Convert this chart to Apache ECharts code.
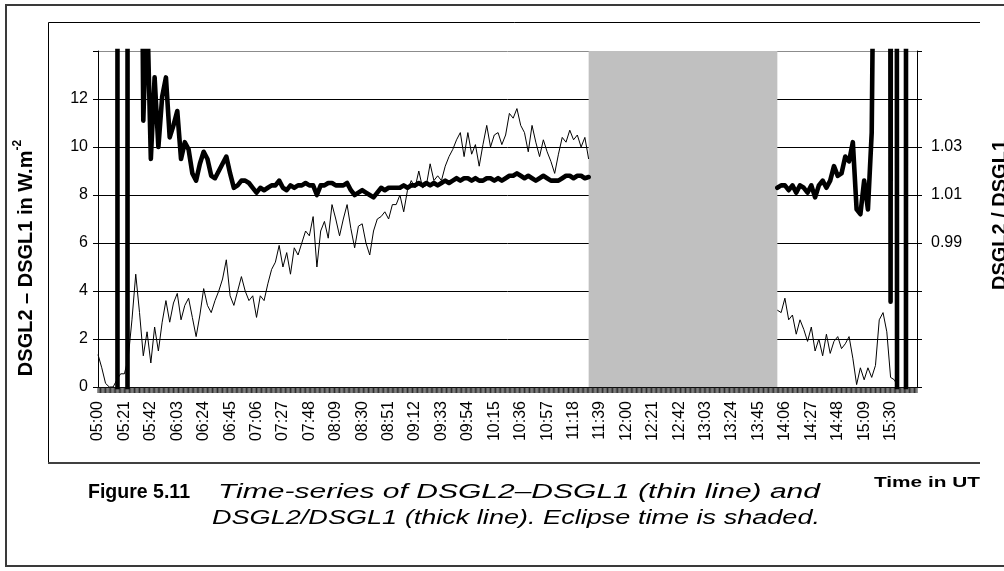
<!DOCTYPE html>
<html>
<head>
<meta charset="utf-8">
<script src="https://cdn.jsdelivr.net/npm/echarts@6/dist/echarts.min.js"></script>
<style>
  html, body { margin: 0; padding: 0; background: #fff; }
  #chart { width: 1004px; height: 571px; }
</style>
</head>
<body>
<div id="chart"></div>
<script>
const FONT = '"Liberation Sans", Arial, Helvetica, sans-serif';

// Time axis: one category per minute from 05:00 to 15:51 UT
function clock(m) {
  const h = Math.floor(m / 60), mm = m % 60;
  return String(h).padStart(2, '0') + ':' + String(mm).padStart(2, '0');
}
const firstMinute = 300, lastMinute = 951;
const minuteCategories = [];
for (let m = firstMinute; m <= lastMinute; m += 1) minuteCategories.push(clock(m));
const sampleStep = 3; // readings every 3 minutes

const timeLabels = ['05:00','05:21','05:42','06:03','06:24','06:45','07:06','07:27','07:48',
  '08:09','08:30','08:51','09:12','09:33','09:54','10:15','10:36','10:57','11:18','11:39',
  '12:00','12:21','12:42','13:03','13:24','13:45','14:06','14:27','14:48','15:09','15:30'];
const leftLabels = ['0','2','4','6','8','10','12'];
const rightLabels = ['0.99','1.01','1.03'];

const eclipseStart = '11:30';
const eclipseEnd = '14:00';
const morningStart = '05:00';
const afternoonStart = '14:00';

// DSGL2 - DSGL1 in W.m-2, morning (05:00-11:30) and afternoon (from 14:00)
const diffMorning = [
  1.35, 0.8, 0.15, 0, 0, 0.3, 0.55, 0.55, 1.2, 2.8,
  4.7, 3.1, 1.3, 2.3, 1.0, 2.5, 1.5, 2.7, 3.6, 2.7,
  3.5, 3.9, 2.8, 3.4, 3.7, 2.9, 2.1, 3.0, 4.1, 3.4,
  3.1, 3.6, 4.0, 4.5, 5.3, 3.8, 3.4, 4.0, 4.6, 4.0,
  3.6, 3.8, 2.9, 3.8, 3.6, 4.3, 4.9, 5.2, 5.9, 5.0,
  5.6, 4.7, 5.8, 5.5, 6.0, 6.5, 6.3, 7.1, 5.0, 6.5,
  6.9, 6.2, 7.6, 7.0, 6.3, 7.0, 7.6, 6.6, 5.8, 6.7,
  6.8, 6.0, 5.5, 6.5, 7.0, 7.1, 7.3, 7.0, 7.6, 7.6,
  8.0, 7.3, 8.2, 8.6, 8.3, 9.0, 8.3, 8.4, 9.3, 8.6,
  8.8, 8.6, 9.2, 9.6, 9.9, 10.3, 10.6, 9.6, 10.6, 9.7,
  10.1, 9.2, 10.1, 10.9, 10.0, 10.5, 10.6, 10.1, 10.5, 11.4,
  11.2, 11.6, 10.9, 10.6, 9.8, 10.9, 10.2, 9.6, 10.3, 9.8,
  9.4, 8.9, 9.7, 10.4, 10.2, 10.7, 10.3, 10.5, 10.0, 10.4,
  9.5
];
const diffAfternoon = [
  3.2, 3.1, 3.7, 2.8, 3.0, 2.2, 2.8, 2.4, 1.9, 2.5,
  1.5, 2.0, 1.3, 2.2, 1.4, 1.9, 2.1, 1.6, 1.8, 2.1,
  1.2, 0.1, 0.8, 0.3, 0.8, 0.4, 0.9, 2.8, 3.1, 2.3,
  0.4, 0.3, 0
];

// DSGL2 / DSGL1, same sampling
const ratioMorning = [
  1.35, 1.6, 2.4, 3.1, 4.0, 5.0, -20, -12, 3.85, 2.6,
  1.8, 1.25, 1.041, 1.09, 1.025, 1.059, 1.030, 1.051, 1.059, 1.034,
  1.039, 1.045, 1.025, 1.032, 1.029, 1.019, 1.016, 1.023, 1.028, 1.025,
  1.018, 1.017, 1.020, 1.023, 1.026, 1.019, 1.013, 1.014, 1.016, 1.016,
  1.015, 1.013, 1.011, 1.013, 1.012, 1.013, 1.014, 1.014, 1.016, 1.013,
  1.012, 1.014, 1.013, 1.014, 1.014, 1.015, 1.014, 1.014, 1.010, 1.014,
  1.014, 1.015, 1.015, 1.014, 1.014, 1.014, 1.015, 1.012, 1.010, 1.011,
  1.012, 1.011, 1.010, 1.009, 1.011, 1.013, 1.012, 1.013, 1.013, 1.013,
  1.013, 1.014, 1.013, 1.014, 1.014, 1.015, 1.014, 1.015, 1.014, 1.015,
  1.014, 1.015, 1.016, 1.015, 1.016, 1.017, 1.016, 1.017, 1.017, 1.016,
  1.017, 1.016, 1.016, 1.017, 1.017, 1.016, 1.017, 1.016, 1.017, 1.018,
  1.018, 1.019, 1.018, 1.017, 1.018, 1.017, 1.016, 1.017, 1.018, 1.017,
  1.016, 1.016, 1.016, 1.017, 1.018, 1.018, 1.017, 1.018, 1.018, 1.017,
  1.0175
];
const ratioAfternoon = [
  1.013, 1.014, 1.014, 1.012, 1.014, 1.011, 1.014, 1.013, 1.011, 1.014,
  1.009, 1.014, 1.016, 1.013, 1.016, 1.022, 1.018, 1.019, 1.026, 1.024,
  1.032, 1.004, 1.002, 1.016, 1.004, 1.036, 1.2, 1.6, 2.2, 3.0,
  0.9655, 3.0, 0.1, 0.3, -2, 35.5, 8, 3
];

// attach each reading to its minute on the time axis
function pairs(values, startLabel) {
  const s = minuteCategories.indexOf(startLabel);
  return values.map((v, i) => [minuteCategories[s + i * sampleStep], v]);
}

// stretch factor so a caption line fills a given width
const measureCtx = document.createElement('canvas').getContext('2d');
function stretchTo(text, font, width) {
  measureCtx.font = font;
  return width / measureCtx.measureText(text).width;
}

const capFontBold = 'bold 20px "Liberation Sans"';
const capFontItalic = 'italic 20px "Liberation Sans"';
const capLine0 = 'Figure 5.11';
const capLine1 = 'Time-series of DSGL2\u2013DSGL1 (thin line) and';
const capLine2 = 'DSGL2/DSGL1 (thick line). Eclipse time is shaded.';
const utFont = 'bold 15px "Liberation Sans"';
const utText = 'Time in UT';

const chart = echarts.init(document.getElementById('chart'), null, { renderer: 'canvas' });

const thinStyle = { color: '#000', width: 1 };
const thickStyle = { color: '#000', width: 4.6, join: 'round', cap: 'round' };
const minuteTickLength = 6;

chart.setOption({
  animation: false,
  backgroundColor: '#fff',
  grid: { left: 98, right: 87, top: 51, bottom: 184, containLabel: false },
  xAxis: {
    type: 'category',
    data: minuteCategories,
    boundaryGap: false,
    axisLine: { onZero: false, lineStyle: { color: '#000', width: 1 } },
    axisTick: { show: false },
    axisLabel: {
      interval: (i, v) => timeLabels.includes(v),
      rotate: 90, fontSize: 16, color: '#000', fontFamily: FONT, margin: 14
    },
    splitLine: { show: false }
  },
  yAxis: [
    {
      type: 'value', min: 0, max: 14, interval: 2, position: 'left',
      axisLine: { show: true, lineStyle: { color: '#000', width: 1 } },
      axisTick: { show: true, length: 5, lineStyle: { color: '#000' } },
      axisLabel: {
        formatter: v => (leftLabels.includes(String(v)) ? String(v) : ''),
        fontSize: 16, color: '#000', fontFamily: FONT, margin: 10
      },
      splitLine: {
        show: true,
        lineStyle: { color: ['#000', '#000', '#000', '#000', '#000', '#000', '#000', '#8c8c8c'], width: 1 }
      }
    },
    {
      type: 'value', min: 0.93, max: 1.07, interval: 0.02, position: 'right',
      axisLine: { show: true, lineStyle: { color: '#000', width: 1 } },
      axisTick: { show: true, length: 5, lineStyle: { color: '#000' } },
      axisLabel: {
        formatter: v => { const s = v.toFixed(2); return rightLabels.includes(s) ? s : ''; },
        fontSize: 16, color: '#000', fontFamily: FONT, margin: 14
      },
      splitLine: { show: false }
    }
  ],
  series: [
    {
      // one tick mark per minute under the time axis
      name: 'minute ticks', type: 'custom', yAxisIndex: 0, silent: true, z: 1, clip: false,
      data: minuteCategories.map(c => [c, 0]),
      encode: { x: 0, y: 1 },
      renderItem: (params, api) => {
        const p = api.coord([api.value(0), 0]);
        return {
          type: 'line',
          shape: { x1: p[0], y1: p[1] + 0.5, x2: p[0], y2: p[1] + minuteTickLength },
          style: { stroke: '#2a2a2a', lineWidth: 1 }
        };
      }
    },
    {
      name: 'DSGL2-DSGL1', type: 'line', yAxisIndex: 0,
      data: pairs(diffMorning, morningStart), symbol: 'none', lineStyle: thinStyle, z: 2,
      markArea: {
        silent: true,
        itemStyle: { color: '#c0c0c0' },
        data: [[{ xAxis: eclipseStart }, { xAxis: eclipseEnd }]]
      }
    },
    {
      name: 'DSGL2-DSGL1 pm', type: 'line', yAxisIndex: 0,
      data: pairs(diffAfternoon, afternoonStart), symbol: 'none', lineStyle: thinStyle, z: 2
    },
    {
      name: 'DSGL2/DSGL1', type: 'line', yAxisIndex: 1,
      data: pairs(ratioMorning, morningStart), symbol: 'none', lineStyle: thickStyle, z: 3
    },
    {
      name: 'DSGL2/DSGL1 pm', type: 'line', yAxisIndex: 1,
      data: pairs(ratioAfternoon, afternoonStart), symbol: 'none', lineStyle: thickStyle, z: 3
    }
  ],
  graphic: [
    { type: 'rect', silent: true, shape: { x: 6, y: 5, width: 1030, height: 561 },
      style: { fill: 'none', stroke: '#3a3a3a', lineWidth: 2 } },
    { type: 'polyline', silent: true,
      shape: { points: [[980, 22.5], [48.5, 22.5], [48.5, 463]] },
      style: { fill: 'none', stroke: '#000', lineWidth: 1 } },
    { type: 'line', silent: true, shape: { x1: 48, y1: 463, x2: 980, y2: 463 },
      style: { stroke: '#404040', lineWidth: 2 } },
    { type: 'text', silent: true, x: 24, y: 258, rotation: Math.PI / 2,
      style: {
        text: '{a|DSGL2 \u2013 DSGL1 in W.m}{b|-2}',
        textAlign: 'center', textVerticalAlign: 'middle', align: 'center', verticalAlign: 'middle',
        rich: {
          a: { fontSize: 20, fontWeight: 'bold', fontFamily: FONT, fill: '#000', lineHeight: 24, verticalAlign: 'bottom' },
          b: { fontSize: 12, fontWeight: 'bold', fontFamily: FONT, fill: '#000', lineHeight: 24, verticalAlign: 'top' }
        }
      } },
    { type: 'text', silent: true, x: 1000, y: 215, rotation: Math.PI / 2,
      style: {
        text: 'DSGL2 / DSGL1', font: 'bold 20px "Liberation Sans"', fill: '#000',
        textAlign: 'center', textVerticalAlign: 'middle', align: 'center', verticalAlign: 'middle'
      } },
    { type: 'text', silent: true, x: 88, y: 492, scaleX: stretchTo(capLine0, capFontBold, 102),
      style: { text: capLine0, font: capFontBold, fill: '#000',
        textAlign: 'left', textVerticalAlign: 'middle', align: 'left', verticalAlign: 'middle' } },
    { type: 'text', silent: true, x: 218, y: 492, scaleX: stretchTo(capLine1, capFontItalic, 602),
      style: { text: capLine1, font: capFontItalic, fill: '#000',
        textAlign: 'left', textVerticalAlign: 'middle', align: 'left', verticalAlign: 'middle' } },
    { type: 'text', silent: true, x: 212, y: 518, scaleX: stretchTo(capLine2, capFontItalic, 608),
      style: { text: capLine2, font: capFontItalic, fill: '#000',
        textAlign: 'left', textVerticalAlign: 'middle', align: 'left', verticalAlign: 'middle' } },
    { type: 'text', silent: true, x: 980, y: 483, scaleX: stretchTo(utText, utFont, 106),
      style: { text: utText, font: utFont, fill: '#000',
        textAlign: 'right', textVerticalAlign: 'middle', align: 'right', verticalAlign: 'middle' } }
  ]
});
</script>
</body>
</html>
